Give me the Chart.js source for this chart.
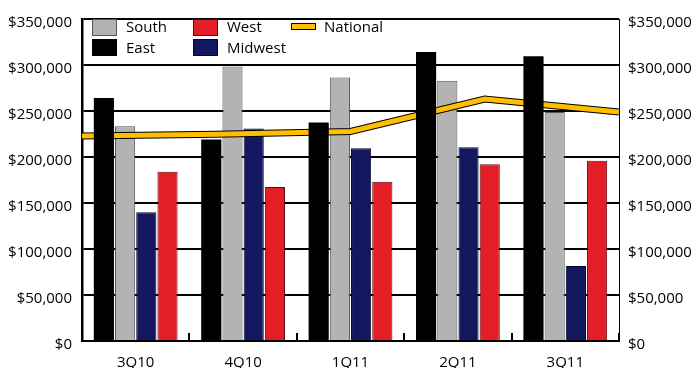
<!DOCTYPE html>
<html>
<head>
<meta charset="utf-8">
<script src="https://cdn.jsdelivr.net/npm/chart.js@4/dist/chart.umd.min.js"></script>
<style>
  html, body { margin: 0; padding: 0; background: #fff; }
  #wrap { position: relative; width: 694px; height: 368px; }
  #c { position: absolute; left: 0; top: 0; }
  #legend {
    position: absolute; left: 92px; top: 17px;
    display: grid; grid-template-columns: 101px 98px auto;
    grid-auto-rows: 20.5px;
    font-family: 'Open Sans', sans-serif; font-size: 15px; color: #000;
  }
  .item { display: flex; align-items: center; white-space: nowrap; }
  .sw { box-sizing: border-box; width: 25px; height: 17px; margin-right: 9px; border: 1px solid #333; }
  .sw.line { height: 7px; margin-right: 8px; border: 1px solid #000; position: relative; top: -1px; }
  .item span { position: relative; top: -1px; }
</style>
</head>
<body>
<div id="wrap">
  <canvas id="c" width="694" height="368"></canvas>
  <div id="legend"></div>
</div>
<script>
// Quarterly median prices by region
const quarters = ['3Q10', '4Q10', '1Q11', '2Q11', '3Q11'];
const east     = [264000, 219000, 237500, 314000, 309500];
const south    = [233500, 298500, 286500, 283000, 249000];
const midwest  = [140000, 231000, 209500, 210500, 81500];
const west     = [184000, 167500, 173000, 192000, 196000];
const national = [222700, 224800, 227800, 263000, 248800];

const yTicks = [0, 50000, 100000, 150000, 200000, 250000, 300000, 350000];
const money = v => '$' + Number(v).toLocaleString('en-US');

const GOLD = '#FFBF00';
const legendOrder = [
  { label: 'South',    color: '#B3B3B3', border: '#555' },
  { label: 'West',     color: '#E31E26', border: '#5a0a0c' },
  { label: 'National', color: GOLD,      border: '#000', line: true },
  { label: 'East',     color: '#000000', border: '#000' },
  { label: 'Midwest',  color: '#13185E', border: '#05062a' }
];

const legendEl = document.getElementById('legend');
legendOrder.forEach(it => {
  const d = document.createElement('div');
  d.className = 'item';
  const sw = document.createElement('div');
  sw.className = 'sw' + (it.line ? ' line' : '');
  sw.style.background = it.color;
  sw.style.borderColor = it.border;
  const t = document.createElement('span');
  t.textContent = it.label;
  d.appendChild(sw); d.appendChild(t);
  legendEl.appendChild(d);
});

Chart.defaults.font.family = "'Open Sans', sans-serif";
Chart.defaults.font.size = 15;
Chart.defaults.color = '#000';

// Each dataset declares its own index axis ('x'); the chart-level index axis is the
// shared value axis so the national line's extra x scale does not split the bar groups.
const barCommon = { indexAxis: 'x', categoryPercentage: 0.79, barPercentage: 0.95, borderSkipped: 'start' };
const lineCommon = { type: 'line', indexAxis: 'x', xAxisID: 'x2', yAxisID: 'y', pointRadius: 0, tension: 0,
                     borderJoinStyle: 'miter', fill: false };

new Chart(document.getElementById('c'), {
  type: 'bar',
  data: {
    labels: quarters,
    datasets: [
      Object.assign({ label: 'East', data: east, backgroundColor: '#000', borderWidth: 0, order: 0 }, barCommon),
      Object.assign({ label: 'South', data: south, backgroundColor: '#B3B3B3', borderColor: '#555', borderWidth: 1, order: 2 }, barCommon),
      Object.assign({ label: 'Midwest', data: midwest, backgroundColor: '#13185E', borderColor: '#05062a', borderWidth: 1, order: 3 }, barCommon),
      Object.assign({ label: 'West', data: west, backgroundColor: '#E31E26', borderColor: '#5a0a0c', borderWidth: 1, order: 4 }, barCommon),
      Object.assign({ label: 'National outline', data: national, borderColor: '#000', borderWidth: 7, order: 1.5 }, lineCommon),
      Object.assign({ label: 'National', data: national, borderColor: GOLD, borderWidth: 5, order: 1 }, lineCommon)
    ]
  },
  options: {
    indexAxis: 'y',
    responsive: false,
    devicePixelRatio: 1,
    animation: false,
    layout: { padding: { top: 13, left: 0, right: 0, bottom: 0 } },
    plugins: { legend: { display: false }, tooltip: { enabled: false } },
    scales: {
      x: {
        type: 'category', position: 'bottom',
        offset: true,
        grid: { offset: true, drawOnChartArea: false, drawTicks: true, tickLength: -8, color: '#000', lineWidth: 2 },
        border: { color: '#000', width: 2 },
        ticks: { padding: 21, color: '#000' },
        afterFit: s => { s.height = 27; }
      },
      x2: {
        type: 'category', labels: quarters, display: false, offset: false, grid: { offset: false }
      },
      y: {
        type: 'linear', position: 'left', min: 0, max: 350000, offset: false,
        afterBuildTicks: s => { s.ticks = yTicks.map(v => ({ value: v })); },
        ticks: { callback: money, padding: 10, labelOffset: 4, autoSkip: false },
        grid: { offset: false, color: '#000', lineWidth: 2, drawTicks: false },
        border: { color: '#000', width: 2.5 },
        afterFit: s => { s.width = 82; }
      },
      y2: {
        type: 'linear', position: 'right', min: 0, max: 350000, offset: false,
        afterBuildTicks: s => { s.ticks = yTicks.map(v => ({ value: v })); },
        ticks: { callback: money, padding: 9, labelOffset: 4, autoSkip: false },
        grid: { offset: false, drawOnChartArea: false, drawTicks: false },
        border: { color: '#000', width: 1 },
        afterFit: s => { s.width = 75; }
      }
    }
  }
});
</script>
</body>
</html>
